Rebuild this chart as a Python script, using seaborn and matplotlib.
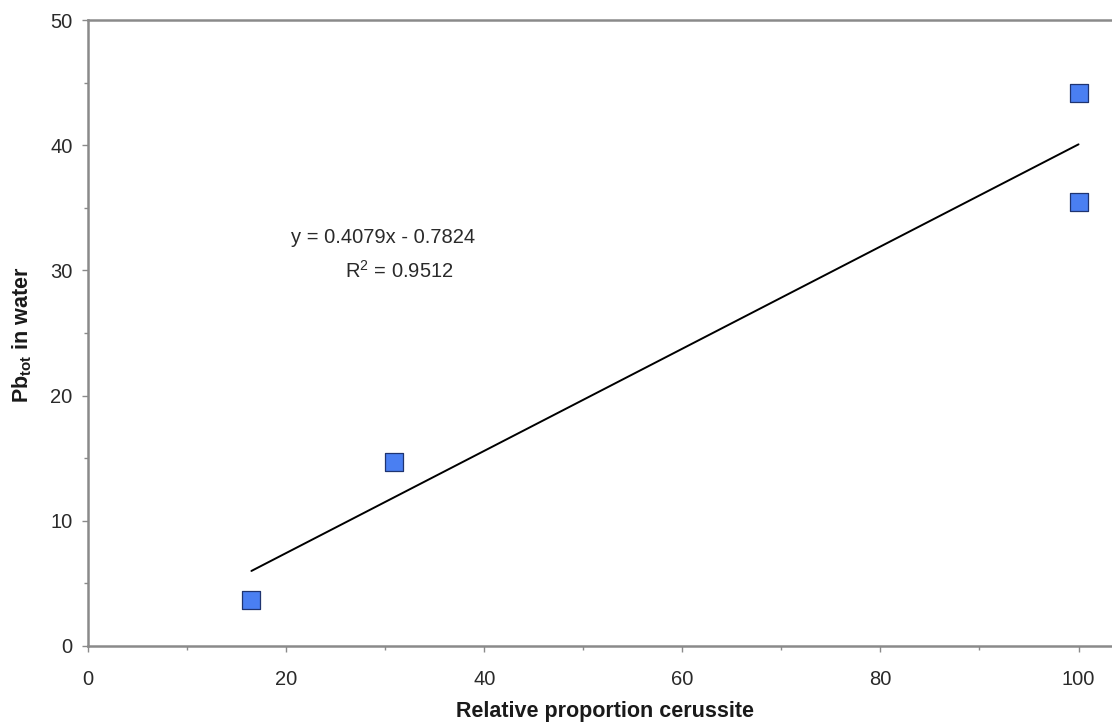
import numpy as np
import matplotlib.pyplot as plt
import seaborn as sns

# values
cerussite = [16.5, 30.9, 100.0, 100.0]
pb_water = [3.65, 14.7, 44.2, 35.45]
eq_text = "y = 0.4079x - 0.7824"
r2_text = "R$^2$ = 0.9512"

sns.set_style("white")
plt.rcParams['font.family'] = ['Liberation Sans', 'DejaVu Sans']
plt.rcParams['mathtext.fontset'] = 'custom'
plt.rcParams['mathtext.rm'] = 'Liberation Sans'
plt.rcParams['mathtext.bf'] = 'Liberation Sans:bold'

fig = plt.figure(figsize=(11.12, 7.25), dpi=100)
ax = fig.add_axes([0.0791, 0.109, 0.93, 0.8634])

sns.regplot(x=cerussite, y=pb_water, ax=ax, ci=None, truncate=True,
            marker='s',
            scatter_kws=dict(s=150, color='#4a7ff2', edgecolor='#1f3470',
                             linewidths=0.9, alpha=1),
            line_kws=dict(color='black', lw=1.4))

ax.set_xlim(0, 104.4)
ax.set_ylim(0, 50)
ax.set_xticks(np.arange(0, 101, 20))
ax.set_xticks(np.arange(10, 101, 20), minor=True)
ax.set_yticks(np.arange(0, 51, 10))
ax.set_yticks(np.arange(5, 50, 10), minor=True)

for side in ['left', 'bottom', 'top']:
    ax.spines[side].set_color('#8a8a8a')
    ax.spines[side].set_linewidth(1.8)
ax.spines['right'].set_visible(False)

ax.tick_params(which='both', direction='out', color='#8a8a8a', width=1,
               labelsize=14.5, labelcolor='#2a2a2a')
ax.tick_params(which='major', length=4)
ax.tick_params(which='minor', length=3)
ax.tick_params(axis='x', which='both', bottom=True, pad=13)
ax.tick_params(axis='y', which='both', left=True, pad=7)

ax.text(29.8, 32.6, eq_text, fontsize=14.5, color='#2a2a2a', ha='center', va='center')
ax.text(31.4, 30.0, r2_text, fontsize=14.5, color='#2a2a2a', ha='center', va='center')

ax.set_xlabel("Relative proportion cerussite", fontsize=15.5, fontweight='bold',
              color='#1a1a1a')
ax.set_ylabel(r"Pb$_{\mathbf{tot}}$ in water", fontsize=15.5, fontweight='bold',
              color='#1a1a1a')
ax.xaxis.label.set_va('center')
ax.yaxis.label.set_va('center')
ax.xaxis.set_label_coords(0.5, -0.1054)
ax.yaxis.set_label_coords(-0.0635, 0.497)

fig.savefig("out.png", dpi=100)
